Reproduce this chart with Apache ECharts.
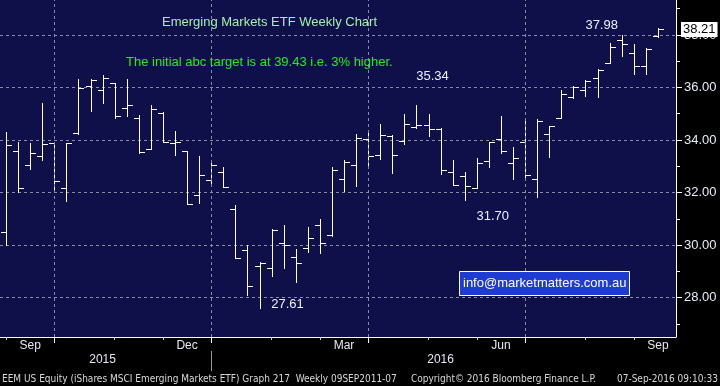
<!DOCTYPE html>
<html><head><meta charset="utf-8">
<script src="https://cdn.jsdelivr.net/npm/echarts@6/dist/echarts.min.js"></script>
<style>html,body{margin:0;padding:0;background:#000;}#c{width:720px;height:386px;}</style>
</head><body><div id="c"></div>
<script>
// Weekly bars (week ending)
const weeks = [
 '2015-08-28','2015-09-04','2015-09-11','2015-09-18','2015-09-25','2015-10-02','2015-10-09','2015-10-16','2015-10-23','2015-10-30',
 '2015-11-06','2015-11-13','2015-11-20','2015-11-27','2015-12-04','2015-12-11','2015-12-18','2015-12-25','2016-01-01','2016-01-08',
 '2016-01-15','2016-01-22','2016-01-29','2016-02-05','2016-02-12','2016-02-19','2016-02-26','2016-03-04','2016-03-11','2016-03-18',
 '2016-03-25','2016-04-01','2016-04-08','2016-04-15','2016-04-22','2016-04-29','2016-05-06','2016-05-13','2016-05-20','2016-05-27',
 '2016-06-03','2016-06-10','2016-06-17','2016-06-24','2016-07-01','2016-07-08','2016-07-15','2016-07-22','2016-07-29','2016-08-05',
 '2016-08-12','2016-08-19','2016-08-26','2016-09-02','2016-09-09'
];
const opens  = [30.51,33.58,33.04,33.39,33.88,32.17,34.27,36.05,35.90,36.17,35.22,34.83,33.65,35.02,33.88,33.59,31.90,32.47,32.79,31.38,
                29.81,29.20,29.12,30.07,29.55,29.88,30.76,30.38,32.51,33.03,34.03,33.42,34.15,33.96,34.49,34.57,34.42,32.78,32.62,32.17,
                33.20,34.03,33.12,33.92,32.51,34.22,34.83,35.63,35.90,36.36,36.93,37.81,37.31,36.82,37.96];
const highs  = [34.32,33.94,33.89,35.42,33.88,33.88,36.33,36.33,36.48,36.17,36.33,34.96,35.34,35.06,34.35,33.60,33.40,33.22,32.97,31.52,
                30.00,29.35,30.61,30.76,29.86,30.69,31.00,32.97,33.23,34.24,34.26,34.62,34.20,35.00,35.34,35.00,34.45,33.23,32.79,33.31,
                33.92,34.92,33.73,34.81,34.81,34.54,35.90,36.05,36.28,36.70,37.70,37.98,37.64,37.50,38.25];
const lows   = [30.01,32.02,32.91,33.22,32.02,31.66,34.22,35.12,35.39,34.82,34.90,33.50,33.65,33.94,33.41,31.56,31.62,32.23,32.21,29.50,
                28.08,27.61,28.84,29.14,28.61,29.75,29.68,30.34,32.04,32.23,33.06,33.26,32.76,33.84,34.45,34.17,32.69,32.28,31.70,32.17,
                32.97,33.50,32.53,32.61,31.83,33.37,34.82,35.59,35.67,35.62,36.93,37.18,36.53,36.50,37.92];
const closes = [33.81,32.17,33.50,33.84,32.43,33.88,35.98,36.28,36.36,34.91,35.34,33.56,35.18,33.94,33.92,31.56,32.65,33.04,32.21,29.50,
                28.43,29.30,30.57,30.00,29.31,30.26,30.07,32.85,33.16,34.06,33.39,34.20,33.42,34.61,34.57,34.42,32.85,32.28,32.24,33.12,
                33.92,33.58,33.31,32.66,34.73,34.54,35.75,36.01,36.24,36.66,37.54,37.65,36.82,37.46,38.21];

// Axis ticks / labels
const yTicks = [28, 30, 32, 34, 36, 38];
const yMinorTicks = [27, 29, 31, 33, 35, 37, 39];
const quarterIdx = [4, 17, 30, 43];
const monthTickIdx = [0, 9, 13, 22, 26, 35, 39, 48, 52];
const monthLabelIdx = [2, 15, 28, 41, 54];
const monthLabels = ['Sep', 'Dec', 'Mar', 'Jun', 'Sep'];
const yearLabelIdx = [8, 36];
const yearLabels = ['2015', '2016'];
const yearBreakIdx = [17];

// Callouts: bar index and which extreme
const calloutIdx = [21, 34, 38, 51];
const calloutKind = ['low', 'high', 'low', 'high'];

const titleText = 'Emerging Markets ETF Weekly Chart';
const noteText = 'The initial abc target is at 39.43 i.e. 3% higher.';
const infoText = 'info@marketmatters.com.au';
const footerLeft = 'EEM US Equity (iShares MSCI Emerging Markets ETF) Graph 217  Weekly 09SEP2011-07';
const footerMid = 'Copyright\u00A9 2016 Bloomberg Finance L.P.';
const footerRight = '07-Sep-2016 09:10:33';

// ---- build ----
const cats = weeks.concat(['']);
const ohlc = weeks.map((w, i) => [i, opens[i], highs[i], lows[i], closes[i]]);
const calloutOffsets = [[28, -3], [16, -28], [28, 16], [-20, -10]];
const callouts = calloutIdx.map((i, k) => {
  const v = calloutKind[k] === 'low' ? lows[i] : highs[i];
  return { coord: [weeks[i], v], value: v, label: { offset: calloutOffsets[k] } };
});
const lastClose = closes[closes.length - 1];

const gridColor = '#8a8aa0';
const navy = '#0f0f4a';
const lblFont = 'Liberation Sans, Arial, sans-serif';
const narrow = 'Liberation Sans Narrow, DejaVu Sans Condensed, Arial Narrow, sans-serif';

const chart = echarts.init(document.getElementById('c'), null, { renderer: 'canvas' });
chart.setOption({
  animation: false,
  backgroundColor: '#000',
  title: [
    { text: titleText, left: 162, top: 14, padding: 0,
      textStyle: { color: '#a6eeb0', fontSize: 13, fontWeight: 'normal', fontFamily: lblFont, lineHeight: 16 } },
    { text: noteText, left: 126, top: 54, padding: 0,
      textStyle: { color: '#22ee22', fontSize: 13, fontWeight: 'normal', fontFamily: lblFont, lineHeight: 16 } },
    { text: infoText, left: 459, top: 271, padding: [5, 3, 5, 4], backgroundColor: '#1e3cd2',
      borderColor: '#ffffff', borderWidth: 1,
      textStyle: { color: '#ffffff', fontSize: 13, fontWeight: 'normal', fontFamily: lblFont, lineHeight: 15 } },
    { text: footerLeft, left: 2, top: 373, padding: 0,
      textStyle: { color: '#d8d8d8', fontSize: 10, fontWeight: 'normal', fontFamily: narrow, lineHeight: 12 } },
    { text: footerMid, left: 411, top: 373, padding: 0,
      textStyle: { color: '#d8d8d8', fontSize: 10, fontWeight: 'normal', fontFamily: narrow, lineHeight: 12 } },
    { text: footerRight, right: 2, top: 373, padding: 0,
      textStyle: { color: '#d8d8d8', fontSize: 10, fontWeight: 'normal', fontFamily: narrow, lineHeight: 12 } }
  ],
  grid: { left: 0, right: 44, top: 0, bottom: 49, show: true, backgroundColor: navy, borderWidth: 0,
          containLabel: false, outerBoundsMode: 'none' },
  xAxis: [
    { type: 'category', data: cats, boundaryGap: true, position: 'bottom',
      axisLine: { show: true, lineStyle: { color: '#ffffff', width: 1 } },
      axisTick: { show: true, alignWithLabel: true, length: 6, lineStyle: { color: '#ffffff' },
                  interval: (i) => quarterIdx.includes(i) },
      axisLabel: { show: true, color: '#e4e8f0', fontSize: 12, fontFamily: lblFont, margin: 3,
                   interval: (i) => monthLabelIdx.includes(i),
                   formatter: (v, i) => { const k = monthLabelIdx.indexOf(i); return k >= 0 ? monthLabels[k] : ''; } },
      splitLine: { show: false } },
    { type: 'category', data: cats, boundaryGap: true, position: 'bottom',
      axisLine: { show: false },
      axisTick: { show: true, alignWithLabel: true, length: 3, lineStyle: { color: '#cccccc' },
                  interval: (i) => monthTickIdx.includes(i) },
      axisLabel: { show: false }, splitLine: { show: false } },
    { type: 'category', data: cats, boundaryGap: true, position: 'bottom', offset: 14,
      axisLine: { show: false },
      axisTick: { show: true, alignWithLabel: true, length: 20, lineStyle: { color: '#9a9a9a' },
                  interval: (i) => yearBreakIdx.includes(i) },
      axisLabel: { show: true, color: '#e4e8f0', fontSize: 12, fontFamily: lblFont, margin: 3,
                   interval: (i) => yearLabelIdx.includes(i),
                   formatter: (v, i) => { const k = yearLabelIdx.indexOf(i); return k >= 0 ? yearLabels[k] : ''; } },
      splitLine: { show: false } }
  ],
  yAxis: [
    { type: 'value', position: 'right', min: 26.5, max: 39.33, scale: true,
      axisLine: { show: true, lineStyle: { color: '#ffffff', width: 1 } },
      axisTick: { show: true, length: 6, customValues: yTicks, lineStyle: { color: '#ffffff' } },
      axisLabel: { show: true, customValues: yTicks, margin: 8, color: '#e6ecf8', fontSize: 13, fontFamily: lblFont,
                   formatter: (v) => v.toFixed(2) },
      splitLine: { show: true, lineStyle: { color: gridColor, type: [3, 3], width: 1 } } },
    { type: 'value', position: 'right', min: 26.5, max: 39.33, scale: true,
      axisLine: { show: false },
      axisTick: { show: true, length: 4, customValues: yMinorTicks, lineStyle: { color: '#ffffff' } },
      axisLabel: { show: false }, splitLine: { show: false } }
  ],
  series: [
    { // quarter gridlines + last price tag
      type: 'line', xAxisIndex: 0, yAxisIndex: 0, data: [], silent: true, z: 1,
      markLine: {
        silent: true, symbol: ['none', 'none'], animation: false,
        data: quarterIdx.map(i => ({ xAxis: weeks[i], label: { show: false },
                lineStyle: { color: gridColor, type: [3, 3], width: 1 } }))
          .concat([{ yAxis: lastClose, lineStyle: { color: 'rgba(0,0,0,0)', width: 1, type: 'solid' },
            label: { show: true, position: 'end', distance: 5, formatter: () => lastClose.toFixed(2),
                     backgroundColor: '#ffffff', color: '#000000', fontSize: 13, fontFamily: lblFont,
                     padding: [1, 2, 1, 2] } }])
      }
    },
    {
      type: 'custom', z: 3,
      xAxisIndex: 0, yAxisIndex: 0,
      data: ohlc,
      encode: { x: 0, y: [1, 2, 3, 4] },
      renderItem: function (params, api) {
        const i = api.value(0);
        const pO = api.coord([i, api.value(1)]);
        const pH = api.coord([i, api.value(2)]);
        const pL = api.coord([i, api.value(3)]);
        const pC = api.coord([i, api.value(4)]);
        const x = Math.round(pO[0]) + 0.5;
        const yO = Math.round(pO[1]) + 0.5, yC = Math.round(pC[1]) + 0.5;
        const st = { stroke: '#ffffff', lineWidth: 1 };
        return { type: 'group', children: [
          { type: 'line', shape: { x1: x, y1: Math.round(pH[1]), x2: x, y2: Math.round(pL[1]) + 1 }, style: st },
          { type: 'line', shape: { x1: x - 5.5, y1: yO, x2: x, y2: yO }, style: st },
          { type: 'line', shape: { x1: x, y1: yC, x2: x + 5.5, y2: yC }, style: st }
        ] };
      },
      markPoint: {
        silent: true, symbol: 'rect', symbolSize: 1,
        itemStyle: { color: 'rgba(0,0,0,0)' },
        label: { show: true, position: 'inside', color: '#eaf2ff', fontSize: 13, fontFamily: lblFont,
                 formatter: (p) => p.value.toFixed(2) },
        data: callouts
      }
    }
  ]
});
</script>
</body></html>
